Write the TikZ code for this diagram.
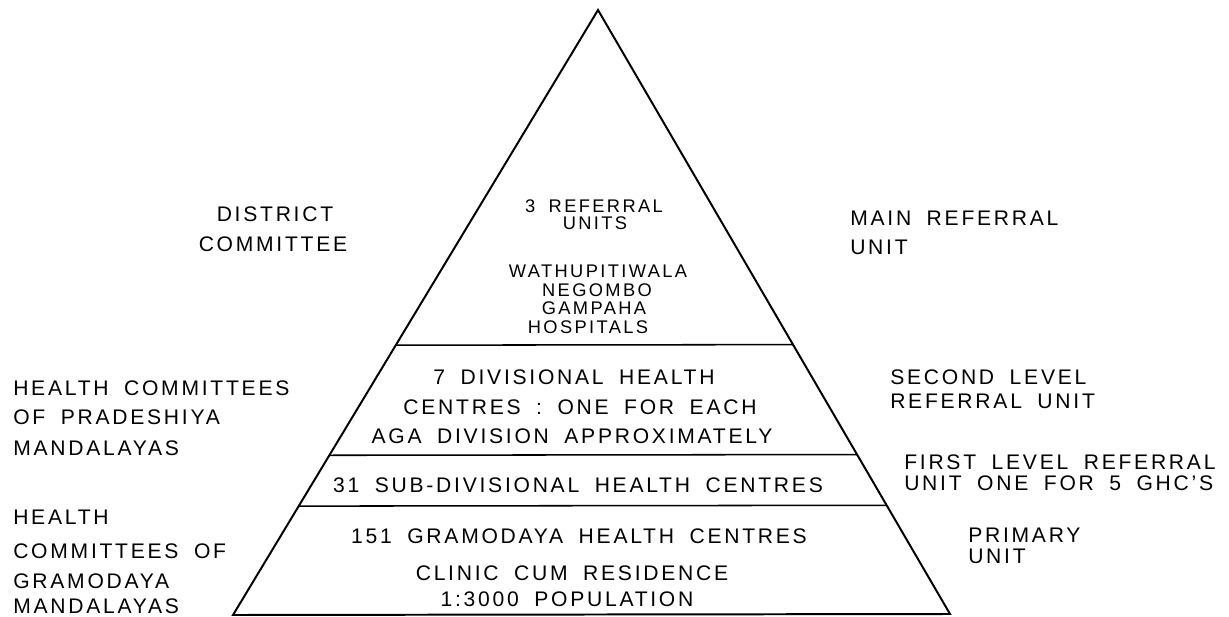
\documentclass[tikz,border=0pt]{standalone}
\usepackage{fontspec}
\setmainfont{Liberation Sans}[LetterSpace=13, WordSpace=1.8]
\usepackage{tikz}
\usetikzlibrary{calc}
\newcommand{\bigtxt}{\fontsize{15}{18}\selectfont}
\newcommand{\smalltxt}{\fontsize{13}{15}\selectfont}

\begin{document}
\begin{tikzpicture}[x=0.025cm, y=-0.025cm,
	edge/.style={line width=1.4pt},
	tier/.style={line width=1.1pt},
	mid/.style={anchor=base, inner sep=0pt, font=\bigtxt},
	topline/.style={mid, font=\smalltxt},
	lbl/.style={anchor=base west, inner sep=0pt, font=\bigtxt}]
	\useasboundingbox (0,0) rectangle (1229,617);
	% pyramid
	\coordinate (apex) at (598,10);
	\coordinate (bl) at (233,615);
	\coordinate (br) at (950,614);
	\draw[edge] (apex) -- (bl) -- (br) -- cycle;
	\foreach \t in {0.554,0.736,0.820}
		\draw[tier] ($(apex)!\t!(bl)$) -- ($(apex)!\t!(br)$);
	% top tier
	\node[topline] (ref1) at (594,212) {3 REFERRAL};
	\node[topline] (ref2) at (595,230) {UNITS};
	\node[topline] (hosp1) at (598,277) {WATHUPITIWALA};
	\node[topline] (hosp2) at (597,296) {NEGOMBO};
	\node[topline] (hosp3) at (594,314) {GAMPAHA};
	\node[topline] (hosp4) at (588,333) {HOSPITALS};
	% divisional tier
	\node[mid] (div1) at (574,384) {7 DIVISIONAL HEALTH};
	\node[mid] (div2) at (580,414) {CENTRES : ONE FOR EACH};
	\node[mid] (div3) at (572,443) {AGA DIVISION APPROXIMATELY};
	\node[mid] (sub) at (578,492) {31 SUB-DIVISIONAL HEALTH CENTRES};
	\node[mid] (gram1) at (579,543) {151 GRAMODAYA HEALTH CENTRES};
	\node[mid] (gram2) at (572,580) {CLINIC CUM RESIDENCE};
	\node[mid] (gram3) at (567,606) {1:3000 POPULATION};
	% left side
	\node[mid] (dc1) at (275,222) {DISTRICT};
	\node[mid] (dc2) at (273,251) {COMMITTEE};
	\node[lbl] (hc1) at (13,395) {HEALTH COMMITTEES};
	\node[lbl] (hc2) at (13,424) {OF PRADESHIYA};
	\node[lbl] (hc3) at (13,455) {MANDALAYAS};
	\node[lbl] (hg1) at (13,524) {HEALTH};
	\node[lbl] (hg2) at (13,558) {COMMITTEES OF};
	\node[lbl] (hg3) at (13,588) {GRAMODAYA};
	\node[lbl] (hg4) at (13,613) {MANDALAYAS};
	% right side
	\node[lbl] (mr1) at (850,225) {MAIN REFERRAL};
	\node[lbl] (mr2) at (850,255) {UNIT};
	\node[lbl] (sl1) at (890,384) {SECOND LEVEL};
	\node[lbl] (sl2) at (890,408) {REFERRAL UNIT};
	\node[lbl] (fl1) at (904,469) {FIRST LEVEL REFERRAL};
	\node[lbl] (fl2) at (904,490) {UNIT ONE FOR 5 GHC'S};
	\node[lbl] (pu1) at (968,542) {PRIMARY};
	\node[lbl] (pu2) at (968,563) {UNIT};
\end{tikzpicture}
\end{document}
